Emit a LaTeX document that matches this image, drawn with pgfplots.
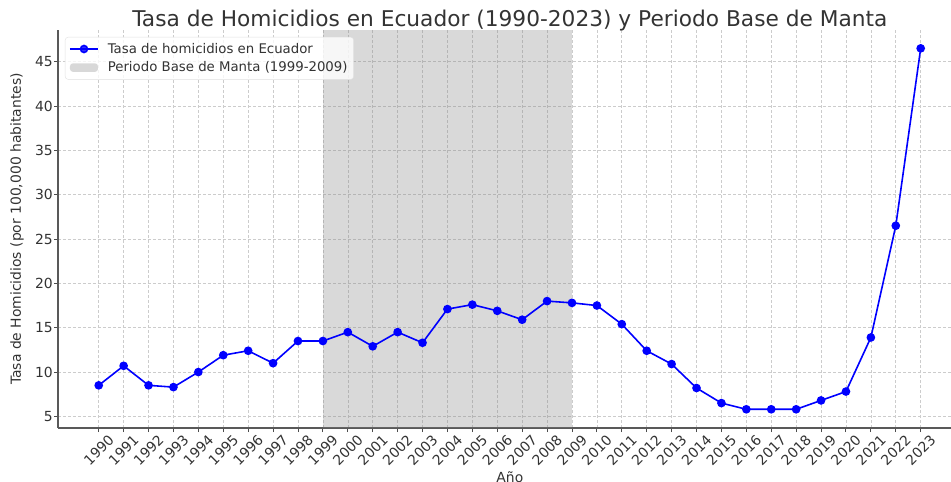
\documentclass[border=0pt]{standalone}
\usepackage{pgfplots}
\pgfplotsset{compat=1.18}
\usepackage{fontspec}
\setmainfont{DejaVu Sans}
\definecolor{txt}{gray}{0.2}
\pgfplotsset{
  linelegend/.style={legend image code/.code={\draw[mark repeat=2, mark phase=2, ##1] plot coordinates {(0pt,0pt) (14pt,0pt) (28pt,0pt)};}},
  arealegend/.style={legend image code/.code={\fill[##1] (0pt,-4.3pt) rectangle (28pt,4.3pt);}},
}
\pgfplotstableread{
year rate
1990 8.5
1991 10.7
1992 8.5
1993 8.3
1994 10.0
1995 11.9
1996 12.4
1997 11.0
1998 13.5
1999 13.5
2000 14.5
2001 12.9
2002 14.5
2003 13.3
2004 17.1
2005 17.6
2006 16.9
2007 15.9
2008 18.0
2009 17.8
2010 17.5
2011 15.4
2012 12.4
2013 10.9
2014 8.2
2015 6.5
2016 5.8
2017 5.8
2018 5.8
2019 6.8
2020 7.8
2021 13.9
2022 26.5
2023 46.5
}\homicidios
\begin{document}
\begin{tikzpicture}
\begin{axis}[
  name=ax, scale only axis, width=893pt, height=398pt,
  xmin=1988.365, xmax=2024.217, ymin=3.69, ymax=48.57,
  axis lines*=left,
  axis line style={black!65, line width=1.2pt},
  xtick={1990,...,2023}, ytick={5,10,...,45},
  /pgf/number format/assume math mode=true,
  /pgf/number format/1000 sep={},
  tick style={black!70, line width=0.8pt},
  major tick length=4pt, tick align=outside,
  grid=major,
  grid style={dash pattern=on 3pt off 2pt, gray!40, line width=0.5pt},
  font=\fontsize{13.9}{16}\selectfont,
  ticklabel style={text=txt},
  yticklabel style={inner sep=1pt},
  xticklabel style={yshift=-18pt, rotate=45, anchor=center},
  title={Tasa de Homicidios en Ecuador (1990-2023) y Periodo Base de Manta},
  title style={at={(axis description cs:0.506,1)}, anchor=base, yshift=-3pt,
    font=\fontsize{21.7}{24}\selectfont, text=txt},
  xlabel={Año},
  xlabel style={at={(axis description cs:0.506,0)}, anchor=north, yshift=-44pt, inner sep=0pt, text=txt},
  ylabel={Tasa de Homicidios (por 100,000 habitantes)},
  ylabel style={at={(axis description cs:-0.0459,0.5)}, anchor=center, inner sep=0pt, text=txt},
  legend style={at={(axis description cs:0,1)}, anchor=north west, xshift=7pt, yshift=-7pt,
    draw=gray!25, rounded corners=3pt, fill=white, fill opacity=0.8, text opacity=1,
    text=txt, font=\fontsize{13.3}{15}\selectfont, row sep=3pt, column sep=7pt, inner sep=4pt},
  legend cell align=left,
]
\addplot[draw=none, fill=gray, fill opacity=0.3, forget plot]
  coordinates {(1999,3.69) (2009,3.69) (2009,48.57) (1999,48.57)} -- cycle;
\addplot[blue, line width=1.6pt, mark=*, mark size=3.5pt, mark options={fill=blue, draw=blue}, linelegend]
  table[x=year, y=rate] {\homicidios};
\addlegendentry{Tasa de homicidios en Ecuador}
\addlegendimage{draw=none, fill=gray, fill opacity=0.3, arealegend}
\addlegendentry{Periodo Base de Manta (1999-2009)}
\end{axis}
\pgfresetboundingbox
\path[use as bounding box] ([xshift=-58pt,yshift=-54pt]ax.south west) rectangle ++(951pt,482pt);
\end{tikzpicture}
\end{document}
